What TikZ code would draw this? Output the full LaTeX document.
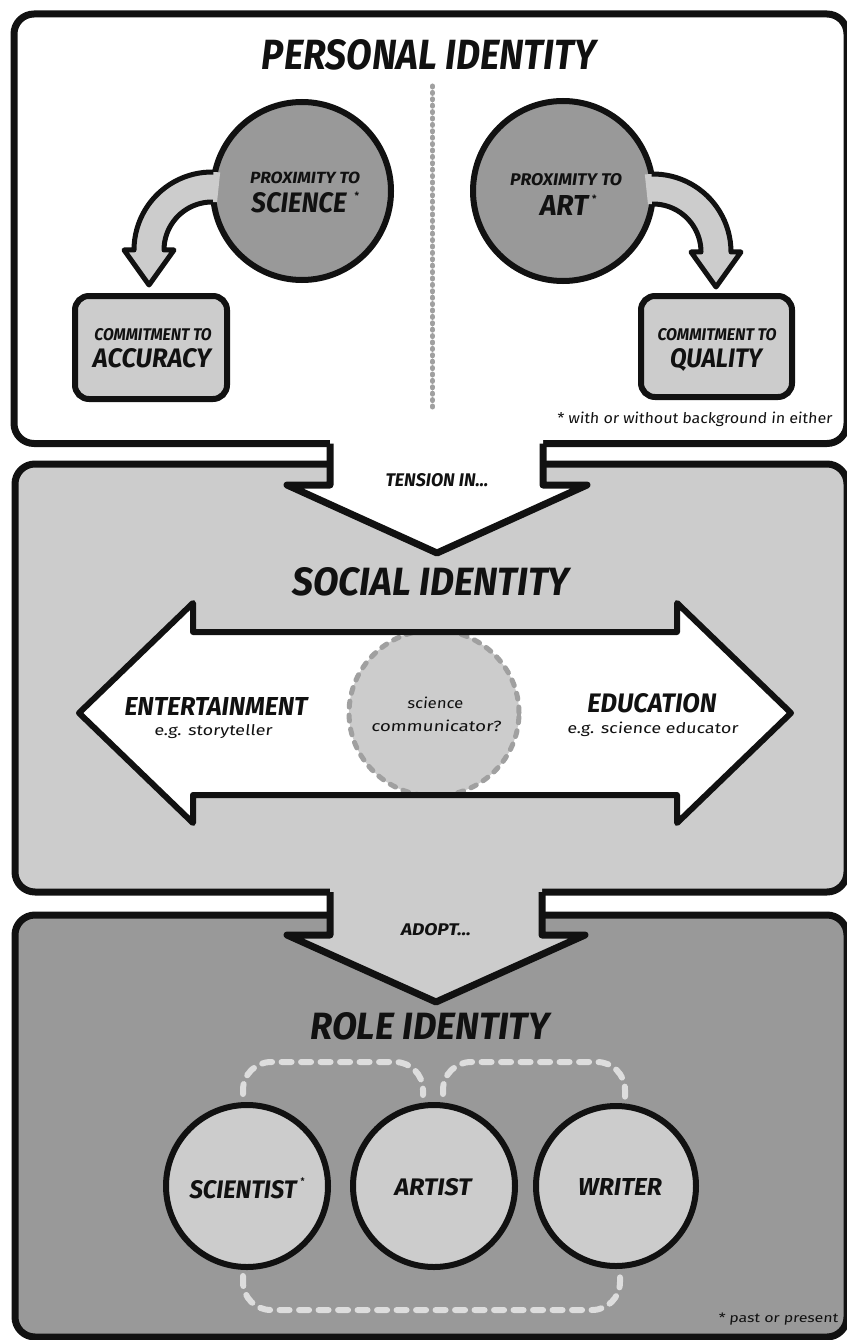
\documentclass[tikz,border=0pt]{standalone}
\usepackage{fontspec}
\usepackage{graphicx}
\usetikzlibrary{calc,shapes.geometric}

\newfontfamily\comicfont{Fira Sans}
\newfontfamily\handfont{Fira Sans}[FakeSlant=0.08]

% bold caption text scaled to a given width and cap height (in pt)
\newcommand{\comic}[3]{\resizebox{#1pt}{#2pt}{\comicfont\bfseries\itshape #3}}
% hand-written style text scaled to a given width and height
\newcommand{\hand}[3]{\resizebox{#1pt}{#2pt}{\handfont #3}}
% small raised asterisk that does not change the width of its line
\newcommand{\astk}[3]{\rlap{\hspace{#1pt}\raisebox{#2pt}{\fontsize{#3}{#3}\selectfont\comicfont\bfseries *}}}

\definecolor{ink}{HTML}{111111}
\definecolor{fillA}{HTML}{CCCCCC}
\definecolor{fillB}{HTML}{999999}
\definecolor{dashA}{HTML}{A0A0A0}
\definecolor{dashB}{HTML}{DDDDDD}

\tikzset{
  panelline/.style={draw=ink, line width=7pt, line join=round},
  outline/.style={draw=ink, line width=6pt, line join=round},
  arrowline/.style={draw=ink, line width=5pt, line join=round},
  bubble/.style={circle, draw=ink, line width=6pt, inner sep=0pt},
  roundbox/.style={rectangle, rounded corners=14pt, draw=ink, line width=6pt, fill=fillA, inner sep=0pt},
  lbl/.style={inner sep=0pt, anchor=base, text=ink},
  handlbl/.style={inner sep=0pt, anchor=base, text=ink},
  divider/.style={draw=dashA, line width=5pt, line cap=round, dash pattern=on 1pt off 5.4pt},
  ghost/.style={draw=dashA, line width=5pt, line cap=round, dash pattern=on 6pt off 8pt},
  linkdash/.style={draw=dashB, line width=6pt, line cap=round, dash pattern=on 10pt off 9.5pt, rounded corners=28pt},
}

\begin{document}
\begin{tikzpicture}[x=1pt,y=-1pt]
\useasboundingbox (0,0) rectangle (846,1340);
\fill[white] (0,0) rectangle (846,1340);

% ---------- role identity panel ----------
\draw[panelline, fill=fillB, rounded corners=20pt] (15,915) rectangle (847,1337);

% ---------- social identity panel with its downward arrow ----------
\draw[panelline, fill=fillA, rounded corners=20pt] (15,464) rectangle (847,892);
\fill[fillA] (330,888) -- (330,935) -- (287,935) -- (436,1002) -- (585,935) -- (542,935) -- (542,888) -- cycle;
\draw[panelline] (330,892) -- (330,935) -- (287,935) -- (436,1002) -- (585,935) -- (542,935) -- (542,892);

% ---------- personal identity panel with its downward arrow ----------
\draw[panelline, fill=white, rounded corners=20pt] (14,14) rectangle (847,443.5);
\fill[white] (330,440) -- (330,485) -- (287,485) -- (437,553) -- (587,485) -- (543,485) -- (543,440) -- cycle;
\draw[panelline] (330,443.5) -- (330,485) -- (287,485) -- (437,553) -- (587,485) -- (543,485) -- (543,443.5);

% ---------- personal identity contents ----------
\node[lbl] (tpersonal) at (429,70) {\comic{334}{30}{PERSONAL IDENTITY}};
\draw[divider] (432.5,86) -- (432.5,412);

\node[bubble, fill=fillB, minimum size=178pt] (psci) at (302,191) {};
\node[bubble, fill=fillB, minimum size=180pt] (part) at (563,191) {};
\node[roundbox, minimum width=152pt, minimum height=103pt] (acc) at (151,347.5) {};
\node[roundbox, minimum width=151pt, minimum height=101pt] (qual) at (716.5,346.5) {};

% curved arrow: science -> accuracy
\coordinate (lc) at (212,250);
\fill[fillA] ($(lc)+(276:78)$) arc[start angle=276, end angle=180, radius=78]
  -- ++(-10,0) -- ($(lc)+(-63,35)$) -- ($(lc)+(-38,0)$) -- ($(lc)+(-48,0)$)
  arc[start angle=180, end angle=276, radius=48] -- cycle;
\draw[arrowline] ($(lc)+(271:78)$) arc[start angle=271, end angle=180, radius=78]
  -- ++(-10,0) -- ($(lc)+(-63,35)$) -- ($(lc)+(-38,0)$) -- ($(lc)+(-48,0)$)
  arc[start angle=180, end angle=271, radius=48];

% curved arrow: art -> quality
\coordinate (rc) at (653,252);
\fill[fillA] ($(rc)+(264:78)$) arc[start angle=264, end angle=360, radius=78]
  -- ++(10,0) -- ($(rc)+(63,35)$) -- ($(rc)+(38,0)$) -- ($(rc)+(48,0)$)
  arc[start angle=360, end angle=264, radius=48] -- cycle;
\draw[arrowline] ($(rc)+(269:78)$) arc[start angle=269, end angle=360, radius=78]
  -- ++(10,0) -- ($(rc)+(63,35)$) -- ($(rc)+(38,0)$) -- ($(rc)+(48,0)$)
  arc[start angle=360, end angle=269, radius=48];

\node[lbl] (tproxs) at (305,183.5) {\comic{110}{11.5}{PROXIMITY TO}};
\node[lbl] (tscience) at (299,213) {\comic{95}{20}{SCIENCE}\astk{8}{13}{10}};
\node[lbl] (tproxa) at (566,186) {\comic{112}{12}{PROXIMITY TO}};
\node[lbl] (tart) at (564,215) {\comic{48}{20}{ART}\astk{4}{13}{10}};
\node[lbl] (tcomma) at (153,340) {\comic{117}{12}{COMMITMENT TO}};
\node[lbl] (taccuracy) at (152,367) {\comic{118}{19}{ACCURACY}};
\node[lbl] (tcommq) at (717,340) {\comic{119}{12}{COMMITMENT TO}};
\node[lbl] (tquality) at (716,367) {\comic{92}{19}{QUALITY}};
\node[handlbl] (tnote1) at (694.5,423) {\hand{275}{11.5}{* with or without background in either}};

\node[lbl] (ttension) at (437,486.5) {\comic{103}{13}{TENSION IN...}};

% ---------- social identity contents ----------
\node[lbl] (tsocial) at (431,595) {\comic{277}{28}{SOCIAL IDENTITY}};

\path[fill=white] (79,713) -- (193,603) -- (193,632) -- (677,632) -- (677,603) -- (791,713)
  -- (677,823) -- (677,795) -- (193,795) -- (193,823) -- cycle;
\begin{scope}
  \clip (193,632) rectangle (677,795);
  \node[ellipse, fill=fillA, ghost, minimum width=170pt, minimum height=166pt, inner sep=0pt] (comm) at (434,713) {};
\end{scope}
\draw[outline] (79,713) -- (193,603) -- (193,632) -- (677,632) -- (677,603) -- (791,713)
  -- (677,823) -- (677,795) -- (193,795) -- (193,823) -- cycle;

\node[lbl] (tent) at (216,715) {\comic{183}{18}{ENTERTAINMENT}};
\node[handlbl] (tstory) at (213,735) {\hand{118}{11}{e.g. storyteller}};
\node[lbl] (tedu) at (652,712) {\comic{129}{19}{EDUCATION}};
\node[handlbl] (teduc) at (652.5,733) {\hand{171}{11.5}{e.g. science educator}};
\node[handlbl] (tsci1) at (435,708) {\hand{56}{11.5}{science}};
\node[handlbl] (tsci2) at (436,731.5) {\hand{130}{11.5}{communicator?}};

% ---------- role identity contents ----------
\node[lbl] (tadopt) at (436,935) {\comic{70}{12}{ADOPT...}};
\node[lbl] (trole) at (430,1039) {\comic{239}{27}{ROLE IDENTITY}};

\node[bubble, fill=fillA, minimum size=162pt] (sci) at (247,1186) {};
\node[bubble, fill=fillA, minimum size=162pt] (art) at (434,1186) {};
\node[bubble, fill=fillA, minimum size=160pt] (wri) at (616,1186) {};

\draw[linkdash] ($(sci.north)+(-4,-8)$) -- ++(0,-32) -| ($(art.north)+(-11,-7)$);
\draw[linkdash] ($(art.north)+(9,-8)$) -- ++(0,-32) -| ($(wri.north)+(9,-6)$);
\draw[linkdash] ($(sci.south)+(-4,6)$) -- ++(0,34) -| ($(wri.south)+(4,8)$);

\node[lbl] (tscientist) at (243,1198) {\comic{107}{18}{SCIENTIST}\astk{4}{14}{9}};
\node[lbl] (tartist) at (433,1195) {\comic{77}{17}{ARTIST}};
\node[lbl] (twriter) at (620,1195) {\comic{84}{17}{WRITER}};

\node[handlbl] (tnote2) at (778,1322) {\hand{120}{9.5}{* past or present}};
\end{tikzpicture}
\end{document}
